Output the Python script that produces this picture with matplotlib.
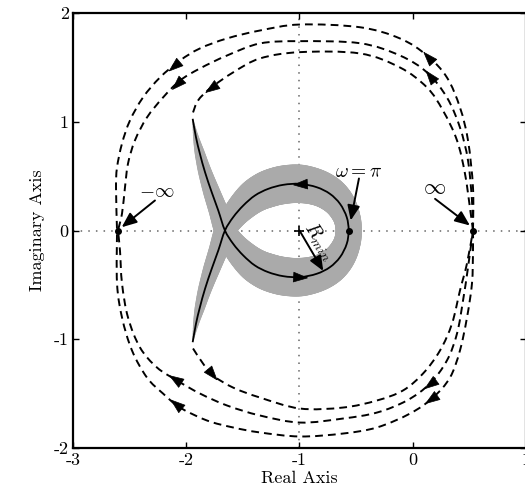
import numpy as np
import matplotlib
matplotlib.use('Agg')
import matplotlib.pyplot as plt
from matplotlib.collections import LineCollection
from matplotlib.markers import MarkerStyle
from matplotlib.transforms import Affine2D
from matplotlib.path import Path
from matplotlib.patches import PathPatch

plt.rcParams['font.family'] = 'serif'
plt.rcParams['font.serif'] = ['cmr10']
plt.rcParams['mathtext.fontset'] = 'cm'
plt.rcParams['axes.unicode_minus'] = False

# nominal curve (solid), from upper tail through the loop to the lower tail
curve_x = [-1.943, -1.914, -1.879, -1.834, -1.775, -1.717, -1.658, -1.585, -1.496,
           -1.393, -1.276, -1.143, -0.996, -0.848, -0.731, -0.642, -0.583, -0.566,
           -0.583, -0.642, -0.731, -0.848, -0.996, -1.143, -1.276, -1.393, -1.496,
           -1.585, -1.658, -1.717, -1.775, -1.834, -1.879, -1.914, -1.943]
curve_y = [1.027, 0.858, 0.705, 0.536, 0.352, 0.184, 0.0, -0.123, -0.230,
           -0.322, -0.383, -0.420, -0.429, -0.398, -0.337, -0.245, -0.123, 0.0,
           0.123, 0.245, 0.337, 0.398, 0.429, 0.420, 0.383, 0.322, 0.230,
           0.123, 0.0, -0.184, -0.352, -0.536, -0.705, -0.858, -1.027]
# uncertainty radius along the curve (grey band)
band_r = [0.0, 0.025, 0.045, 0.06, 0.075, 0.085, 0.095, 0.11, 0.13,
          0.15, 0.165, 0.17, 0.17, 0.16, 0.15, 0.135, 0.12, 0.115,
          0.12, 0.135, 0.15, 0.16, 0.17, 0.17, 0.165, 0.15, 0.13,
          0.11, 0.095, 0.085, 0.075, 0.06, 0.045, 0.025, 0.0]

# dashed contours (travel order)
outer_top_x = [0.532, 0.532, 0.488, 0.417, 0.302, 0.126, -0.113, -0.466, -0.996, -1.349,
               -1.640, -1.879, -2.055, -2.232, -2.382, -2.497, -2.567, -2.611, -2.620, -2.611]
outer_top_y = [0.0, 0.395, 0.828, 1.131, 1.407, 1.609, 1.766, 1.869, 1.894, 1.839,
               1.766, 1.674, 1.563, 1.407, 1.223, 1.011, 0.800, 0.579, 0.395, 0.0]
outer_bot_x = [0.532, 0.532, 0.523, 0.479, 0.417, 0.329, 0.179, -0.024, -0.316, -0.616, -0.996,
               -1.349, -1.587, -1.817, -2.055, -2.205, -2.347, -2.479, -2.567, -2.611, -2.611]
outer_bot_y = [0.0, -0.184, -0.487, -0.800, -1.103, -1.352, -1.536, -1.683, -1.811, -1.867, -1.894,
               -1.857, -1.811, -1.747, -1.628, -1.499, -1.352, -1.103, -0.800, -0.487, 0.0]
mid_top_x = [0.532, 0.523, 0.488, 0.417, 0.302, 0.126, -0.113, -0.466, -0.996, -1.349,
             -1.640, -1.879, -2.055, -2.205, -2.347, -2.453, -2.514, -2.541, -2.567, -2.603]
mid_top_y = [0.0, 0.276, 0.644, 0.947, 1.223, 1.453, 1.609, 1.722, 1.741, 1.720,
             1.609, 1.490, 1.379, 1.223, 1.039, 0.828, 0.616, 0.395, 0.156, 0.0]
mid_bot_x = [0.532, 0.488, 0.444, 0.391, 0.302, 0.152, -0.051, -0.316, -0.616, -0.996,
             -1.349, -1.640, -1.879, -2.082, -2.258, -2.408, -2.514, -2.567, -2.585, -2.603]
mid_bot_y = [0.0, -0.340, -0.644, -0.947, -1.195, -1.407, -1.563, -1.674, -1.729, -1.766,
             -1.701, -1.609, -1.499, -1.379, -1.260, -1.076, -0.800, -0.487, -0.184, 0.0]
inner_bot_x = [-1.940, -1.852, -1.764, -1.587, -1.349, -0.996, -0.616, -0.316, -0.086,
               0.091, 0.241, 0.347, 0.417, 0.479, 0.532]
inner_bot_y = [-1.085, -1.223, -1.333, -1.444, -1.536, -1.637, -1.628, -1.563, -1.471,
               -1.315, -1.103, -0.855, -0.552, -0.303, 0.0]
inner_top_x = [0.532, 0.505, 0.461, 0.391, 0.267, 0.126, -0.113, -0.466, -0.996, -1.349,
               -1.587, -1.790, -1.896, -1.940]
inner_top_y = [0.0, 0.211, 0.524, 0.828, 1.103, 1.315, 1.499, 1.628, 1.640, 1.582,
               1.453, 1.306, 1.195, 1.085]

pts_x = [-2.605, 0.532, -0.566]
pts_y = [0.0, 0.0, 0.0]
center = (-1.0, 0.0)
rmin_tip = (-0.79, -0.372)


def bezier_ctrl(xs, ys):
    # Catmull-Rom style control points so the path runs smoothly through the read points
    P = np.column_stack([xs, ys])
    n = len(P)
    out = []
    for i in range(n - 1):
        p0 = P[i - 1] if i > 0 else P[i]
        p1, p2 = P[i], P[i + 1]
        p3 = P[i + 2] if i + 2 < n else P[i + 1]
        out.append((p1, p1 + (p2 - p0) / 6, p2 - (p3 - p1) / 6, p2))
    return out


def smooth_path(xs, ys):
    segs = bezier_ctrl(xs, ys)
    verts = [segs[0][0]]
    codes = [Path.MOVETO]
    for _, c1, c2, p2 in segs:
        verts += [c1, c2, p2]
        codes += [Path.CURVE4] * 3
    return Path(verts, codes)


fig = plt.figure(figsize=(5.25, 4.94), dpi=100)
ax = fig.add_axes([0.139, 0.0931, 0.8629, 0.8806])
ax.set_xlim(-3, 1)
ax.set_ylim(-2, 2)

ax.axhline(0, color='0.4', lw=1.1, ls=(0, (1, 4)), zorder=1)
ax.axvline(-1, color='0.4', lw=1.1, ls=(0, (1, 4)), zorder=1)

# grey band: stroke along the smooth curve with the uncertainty radius
ppu = (ax.transData.transform((1, 0)) - ax.transData.transform((0, 0)))[0]
bsegs, bw = [], []
tt = np.linspace(0, 1, 9)
for k, (p1, c1, c2, p2) in enumerate(bezier_ctrl(curve_x, curve_y)):
    b = ((1 - tt) ** 3)[:, None] * p1 + (3 * (1 - tt) ** 2 * tt)[:, None] * c1 \
        + (3 * (1 - tt) * tt ** 2)[:, None] * c2 + (tt ** 3)[:, None] * p2
    r = band_r[k] + (band_r[k + 1] - band_r[k]) * tt
    for j in range(len(tt) - 1):
        bsegs.append([b[j], b[j + 1]])
        bw.append((r[j] + r[j + 1]) * ppu * 72 / fig.dpi)
ax.add_collection(LineCollection(bsegs, linewidths=bw, colors='#aaaaaa',
                                 capstyle='round', joinstyle='round', zorder=2))

ax.add_patch(PathPatch(smooth_path(curve_x, curve_y), fill=False, ec='k', lw=1.3, zorder=3))

dash = (0, (4, 2.6))
for xs, ys in [(outer_top_x, outer_top_y), (outer_bot_x, outer_bot_y),
               (mid_top_x, mid_top_y), (mid_bot_x, mid_bot_y),
               (inner_top_x, inner_top_y), (inner_bot_x, inner_bot_y)]:
    ax.add_patch(PathPatch(smooth_path(xs, ys), fill=False, ec='k', lw=1.4, ls=dash, zorder=3))


def head(xs, ys, i, t, ms=10):
    a = ax.transData.transform((xs[i], ys[i]))
    b = ax.transData.transform((xs[i + 1], ys[i + 1]))
    ang = np.arctan2(b[1] - a[1], b[0] - a[0])
    cx = xs[i] + t * (xs[i + 1] - xs[i])
    cy = ys[i] + t * (ys[i + 1] - ys[i])
    m = MarkerStyle([(1, 0), (-1, 0.7), (-1, -0.7), (1, 0)],
                    transform=Affine2D().rotate(ang))
    ax.plot([cx], [cy], marker=m, ms=ms, color='k', mec='k', mew=0.5, ls='none', zorder=5)


head(curve_x, curve_y, 11, 1.0)
head(curve_x, curve_y, 22, 0.0)
head(outer_top_x, outer_top_y, 4, 0.95)
head(outer_top_x, outer_top_y, 12, 0.3)
head(mid_top_x, mid_top_y, 4, 0.85)
head(mid_top_x, mid_top_y, 12, 0.2)
head(inner_top_x, inner_top_y, 10, 0.95)
head(inner_bot_x, inner_bot_y, 1, 0.9)
head(outer_bot_x, outer_bot_y, 6, 0.1)
head(outer_bot_x, outer_bot_y, 14, 0.25)
head(mid_bot_x, mid_bot_y, 5, 0.0)
head(mid_bot_x, mid_bot_y, 13, 0.1)

ax.plot(pts_x, pts_y, 'o', color='k', ms=4, zorder=6)
ax.plot([center[0]], [center[1]], '+', color='k', ms=7, mew=1.2, zorder=6)

aprops = dict(arrowstyle='-|>,head_length=0.6,head_width=0.25', color='k', lw=1.4,
              shrinkA=0, shrinkB=0, mutation_scale=15)
ax.annotate('', xy=(-2.570, 0.030), xytext=(-2.276, 0.276), arrowprops=aprops, zorder=6)
ax.annotate('', xy=(0.505, 0.046), xytext=(0.197, 0.291), arrowprops=aprops, zorder=6)
ax.annotate('', xy=(-0.548, 0.092), xytext=(-0.475, 0.478), arrowprops=aprops, zorder=6)
ax.annotate('', xy=rmin_tip, xytext=center, arrowprops=aprops, zorder=6)

ax.text(-2.261, 0.352, r'$-\infty$', fontsize=14, ha='center', va='center')
ax.text(0.188, 0.386, r'$\infty$', fontsize=16, ha='center', va='center')
ax.text(-0.478, 0.535, r'$\omega = \pi$', fontsize=14, ha='center', va='center')
ax.text(-0.830, -0.105, r'$R_{min}$', fontsize=14, ha='center', va='center', rotation=-57)

ax.set_xticks([-3, -2, -1, 0, 1])
ax.set_xticklabels(['-3', '-2', '-1', '0', '1'])
ax.set_yticks([-2, -1, 0, 1, 2])
ax.set_yticklabels(['-2', '-1', '0', '1', '2'])
ax.tick_params(direction='in', top=True, right=True, length=4, width=1, labelsize=13, pad=3)
for s in ax.spines.values():
    s.set_linewidth(1.6)

ax.set_xlabel('Real Axis', fontsize=13, labelpad=2)
ax.set_ylabel('Imaginary Axis', fontsize=13, labelpad=6)

fig.savefig('out.png', dpi=100)
